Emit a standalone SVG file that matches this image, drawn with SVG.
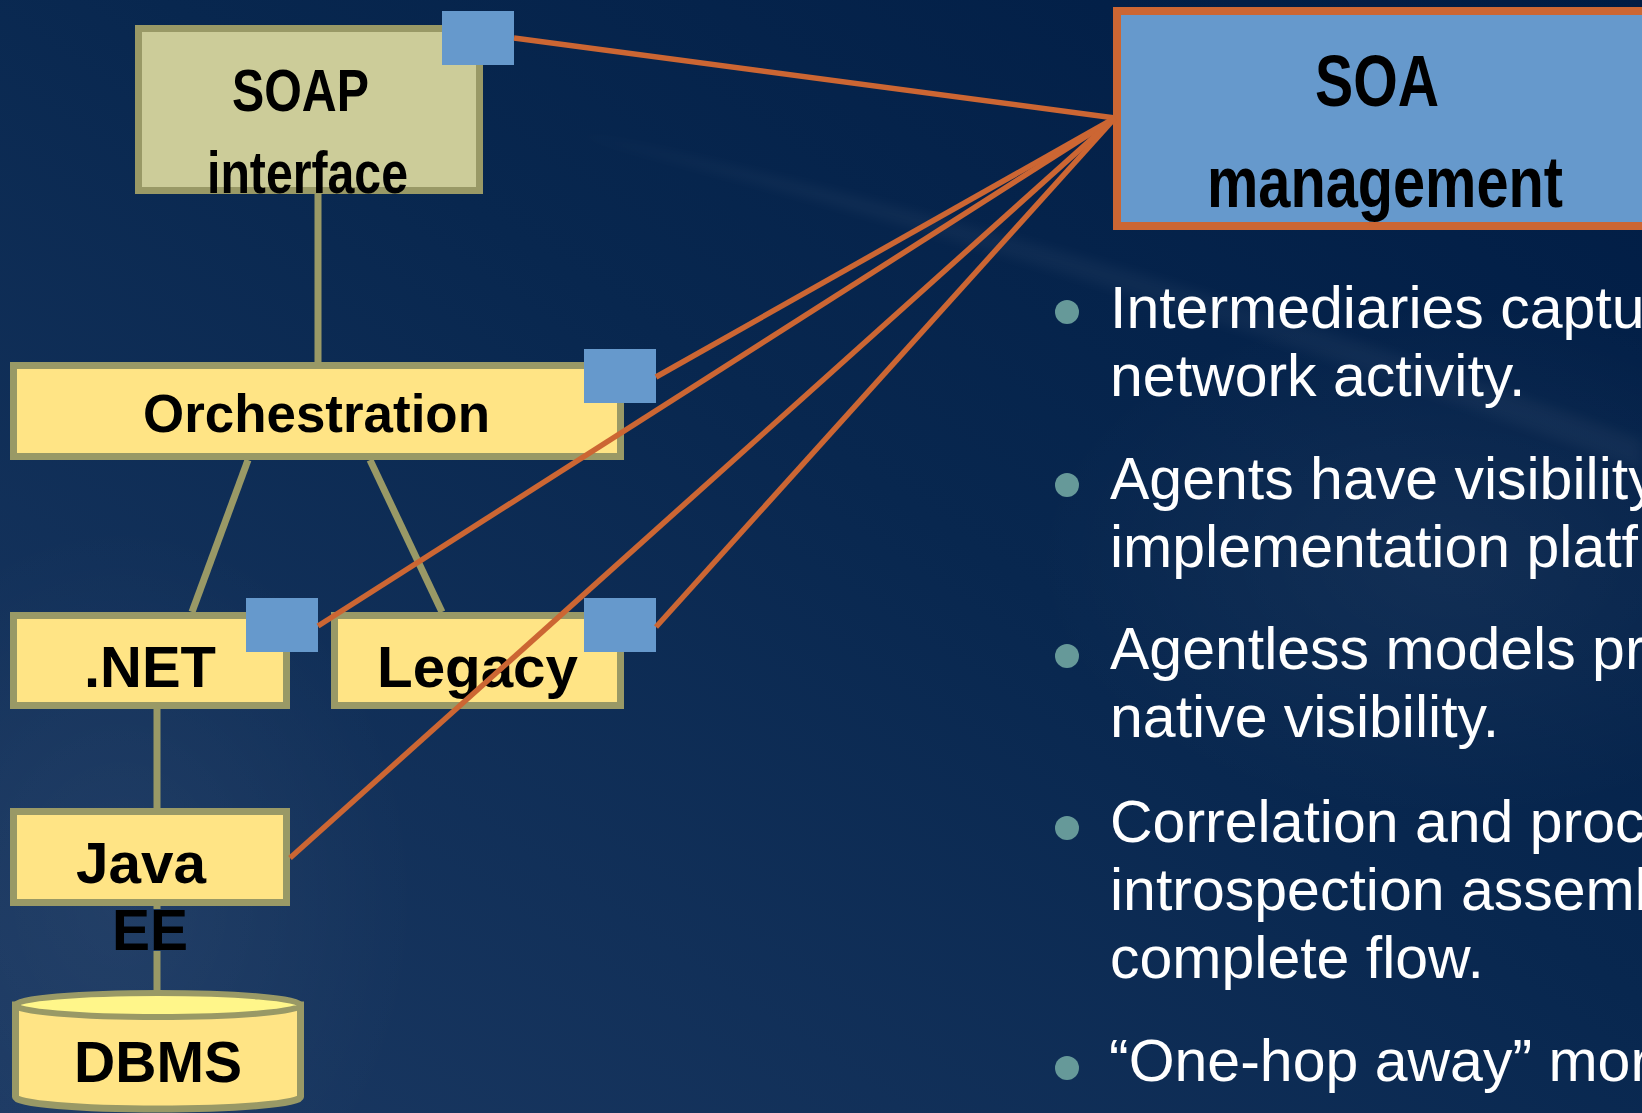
<svg xmlns="http://www.w3.org/2000/svg" width="1642" height="1113" viewBox="0 0 1642 1113">
  <defs>
    <linearGradient id="bg" x1="1" y1="0" x2="0" y2="1">
      <stop offset="0" stop-color="#001c44"/>
      <stop offset="0.45" stop-color="#08274f"/>
      <stop offset="1" stop-color="#1b3963"/>
    </linearGradient>
    <radialGradient id="glowR" cx="0.5" cy="0.5" r="0.5">
      <stop offset="0" stop-color="#ffffff" stop-opacity="0.05"/>
      <stop offset="1" stop-color="#ffffff" stop-opacity="0"/>
    </radialGradient>
    <filter id="soft" x="-20%" y="-20%" width="140%" height="140%">
      <feGaussianBlur stdDeviation="6"/>
    </filter>
    <style>
      .box { stroke: #999966; stroke-width: 7; }
      .yellow { fill: #ffe485; }
      .soap { fill: #cccc99; }
      .port { fill: #6699cc; }
      .tree { stroke: #999966; stroke-width: 7; fill: none; }
      .mon { stroke: #cc6633; stroke-width: 5.5; fill: none; stroke-linecap: butt; }
      .lbl { font-family: "Liberation Sans", Arial, sans-serif; font-weight: bold; fill: #000000; }
      .narrow { font-family: "Liberation Sans Narrow", "Liberation Sans", Arial, sans-serif; font-weight: bold; fill: #000000; }
      .bul { font-family: "Liberation Sans", Arial, sans-serif; font-size: 59px; fill: #ffffff; }
      .dot { fill: #669999; }
    </style>
  </defs>

  <!-- background -->
  <rect x="0" y="0" width="1642" height="1113" fill="url(#bg)"/>
  <ellipse cx="1450" cy="560" rx="420" ry="260" fill="url(#glowR)"/>
  <ellipse cx="120" cy="900" rx="300" ry="380" fill="url(#glowR)"/>
  <path d="M 560 130 Q 1100 240 1642 440 L 1642 470 Q 1100 270 560 130 Z" fill="#ffffff" opacity="0.035" filter="url(#soft)"/>

  <!-- nodes -->
  <g id="node-soap">
    <rect class="box soap" x="138.5" y="28.5" width="341" height="162"/>
    <text class="narrow" x="232" y="111" font-size="60" textLength="137" lengthAdjust="spacingAndGlyphs">SOAP</text>
    <text class="narrow" x="207" y="193" font-size="60" textLength="201" lengthAdjust="spacingAndGlyphs">interface</text>
    <rect class="port" x="442" y="11" width="72" height="54"/>
  </g>

  <g id="node-orchestration">
    <rect class="box yellow" x="13.5" y="365.5" width="607" height="91"/>
    <text class="lbl" x="143" y="432" font-size="53" textLength="347" lengthAdjust="spacingAndGlyphs">Orchestration</text>
    <rect class="port" x="584" y="349" width="72" height="54"/>
  </g>

  <g id="node-dotnet">
    <rect class="box yellow" x="13.5" y="615.5" width="273" height="90"/>
    <text class="lbl" x="84" y="687" font-size="57" textLength="132" lengthAdjust="spacingAndGlyphs">.NET</text>
    <rect class="port" x="246" y="598" width="72" height="54"/>
  </g>

  <g id="node-legacy">
    <rect class="box yellow" x="334.5" y="615.5" width="286" height="90"/>
    <text class="lbl" x="377" y="687" font-size="58" textLength="201" lengthAdjust="spacingAndGlyphs">Legacy</text>
    <rect class="port" x="584" y="598" width="72" height="54"/>
  </g>

  <g id="node-javaee">
    <rect class="box yellow" x="13.5" y="811.5" width="273" height="91"/>
    <text class="lbl" x="76" y="883" font-size="58" textLength="130" lengthAdjust="spacingAndGlyphs">Java</text>
    <text class="lbl" x="112" y="950" font-size="58" textLength="76" lengthAdjust="spacingAndGlyphs">EE</text>
  </g>

  <g id="node-dbms">
    <path class="box yellow" d="M 15.5 1005 L 15.5 1097 A 142.5 12 0 0 0 300.5 1097 L 300.5 1005 Z"/>
    <ellipse cx="158" cy="1005" rx="142.5" ry="12" fill="#fff68a" stroke="#999966" stroke-width="6"/>
    <text class="lbl" x="74" y="1082" font-size="57" textLength="168" lengthAdjust="spacingAndGlyphs">DBMS</text>
  </g>

  <g id="node-soa-management">
    <rect x="1117" y="11" width="600" height="215" fill="#6699cc" stroke="#cc6633" stroke-width="8"/>
    <text class="narrow" x="1315" y="106" font-size="72" textLength="124" lengthAdjust="spacingAndGlyphs">SOA</text>
    <text class="narrow" x="1207" y="207" font-size="72" textLength="356" lengthAdjust="spacingAndGlyphs">management</text>
  </g>

  <!-- connectors -->
  <g id="connectors">
    <line class="tree" x1="318" y1="194" x2="318" y2="362"/>
    <line class="tree" x1="248" y1="460" x2="192" y2="612"/>
    <line class="tree" x1="370" y1="460" x2="442" y2="612"/>
    <line class="tree" x1="157" y1="709" x2="157" y2="808"/>
    <line class="tree" x1="157" y1="905" x2="157" y2="909"/>
    <line class="tree" x1="157" y1="951" x2="157" y2="992"/>
    <line class="mon" x1="514" y1="38" x2="1115" y2="118"/>
    <line class="mon" x1="656" y1="377" x2="1115" y2="118"/>
    <line class="mon" x1="318" y1="626" x2="1115" y2="118"/>
    <line class="mon" x1="656" y1="627" x2="1115" y2="118"/>
    <line class="mon" x1="290" y1="858" x2="1115" y2="118"/>
  </g>

  <!-- bullet list -->
  <g id="bullets">
    <circle class="dot" cx="1067" cy="312" r="12"/>
    <text class="bul" x="1110" y="328">Intermediaries captu</text>
    <text class="bul" x="1110" y="396">network activity.</text>
    <circle class="dot" cx="1067" cy="485" r="12"/>
    <text class="bul" x="1110" y="499">Agents have visibility</text>
    <text class="bul" x="1110" y="567">implementation platf</text>
    <circle class="dot" cx="1067" cy="656" r="12"/>
    <text class="bul" x="1110" y="669">Agentless models pr</text>
    <text class="bul" x="1110" y="737">native visibility.</text>
    <circle class="dot" cx="1067" cy="828" r="12"/>
    <text class="bul" x="1110" y="842">Correlation and proc</text>
    <text class="bul" x="1110" y="910">introspection assembl</text>
    <text class="bul" x="1110" y="978">complete flow.</text>
    <circle class="dot" cx="1067" cy="1068" r="12"/>
    <text class="bul" x="1109" y="1081">“One-hop away” mor</text>
  </g>
</svg>
